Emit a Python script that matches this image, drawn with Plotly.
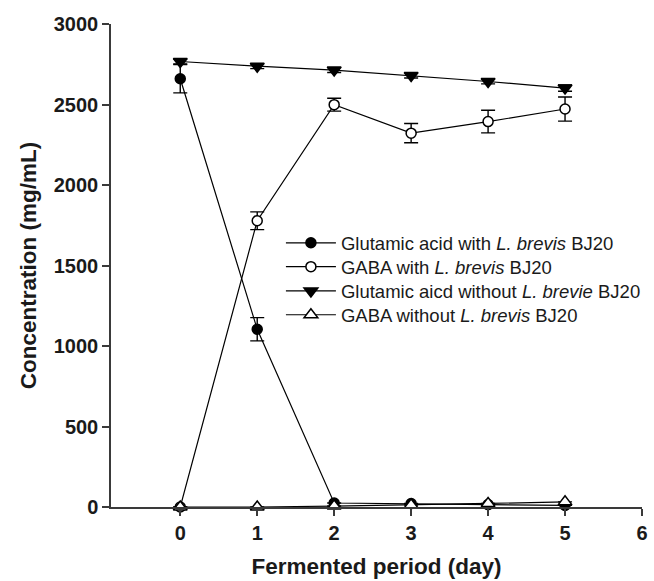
import plotly.graph_objects as go

days = [0, 1, 2, 3, 4, 5]

glu_with = [2660, 1104, 25, 22, 15, 10]
glu_with_err = [88, 72, 0, 0, 0, 0]

gaba_with = [0, 1778, 2499, 2322, 2394, 2472]
gaba_with_err = [0, 55, 40, 60, 70, 75]

glu_without = [2767, 2738, 2714, 2680, 2643, 2602]
glu_without_err = [15, 15, 15, 15, 15, 20]

gaba_without = [0, 0, 6, 12, 22, 32]
gaba_without_err = [0, 0, 0, 0, 0, 0]

names = [
    "Glutamic acid with <i>L. brevis</i> BJ20",
    "GABA with <i>L. brevis</i> BJ20",
    "Glutamic aicd without <i>L. brevie</i> BJ20",
    "GABA without <i>L. brevis</i> BJ20",
]

x_ticks = [0, 1, 2, 3, 4, 5, 6]
y_ticks = [0, 500, 1000, 1500, 2000, 2500, 3000]

FONT = "Liberation Sans, Arial, Helvetica, sans-serif"
AX = "#3a3a3a"
TXT = "#1a1a1a"

series = [
    (glu_with, glu_with_err, "circle", "black", 10),
    (gaba_with, gaba_with_err, "circle", "white", 10),
    (glu_without, glu_without_err, "triangle-down", "black", 12),
    (gaba_without, gaba_without_err, "triangle-up", "white", 12),
]

legend_ids = ["legend", "legend2", "legend3", "legend4"]
legend_rows = [0.546, 0.4966, 0.4464, 0.3970]

fig = go.Figure()
for (vals, errs, sym, fill, size), name, lid in zip(series, names, legend_ids):
    fig.add_trace(go.Scatter(
        x=days, y=vals, name=name, mode="lines+markers",
        line=dict(color="black", width=1.2),
        marker=dict(symbol=sym, size=size, color=fill,
                    line=dict(color="black", width=1.5)),
        error_y=dict(type="data", array=errs, visible=True,
                     color="black", thickness=1.4, width=7),
        cliponaxis=False,
        legend=lid,
    ))

legend_common = dict(
    x=0.320, xanchor="left", yanchor="middle",
    bgcolor="rgba(0,0,0,0)", borderwidth=0,
    font=dict(family=FONT, size=18.5, color=TXT),
    itemwidth=50,
)
legend_layout = {lid: dict(legend_common, y=yr) for lid, yr in zip(legend_ids, legend_rows)}

fig.update_layout(
    width=654, height=581,
    margin=dict(l=111, r=6, t=24, b=72),
    paper_bgcolor="white", plot_bgcolor="white",
    font=dict(family=FONT, color="black"),
    showlegend=True,
    **legend_layout,
    xaxis=dict(
        range=[-0.9, 6], tickmode="array", tickvals=x_ticks,
        ticktext=[str(v) for v in x_ticks],
        showline=True, linecolor=AX, linewidth=1.5,
        ticks="outside", ticklen=7, tickwidth=1.5, tickcolor=AX,
        showgrid=False, zeroline=False,
        tickfont=dict(family=FONT, size=20, color=TXT, weight="bold"),
        title=dict(text="<b>Fermented period (day)</b>",
                   font=dict(family=FONT, size=22.5, color=TXT), standoff=15),
    ),
    yaxis=dict(
        range=[0, 3000], tickmode="array", tickvals=y_ticks,
        ticktext=[str(v) for v in y_ticks],
        showline=True, linecolor=AX, linewidth=1.5,
        ticks="outside", ticklen=7, tickwidth=1.5, tickcolor=AX,
        showgrid=False, zeroline=False,
        tickfont=dict(family=FONT, size=20, color=TXT, weight="bold"),
        title=dict(text="<b>Concentration (mg/mL)</b>",
                   font=dict(family=FONT, size=22.5, color=TXT), standoff=11),
    ),
)

fig.write_html("out.html")
